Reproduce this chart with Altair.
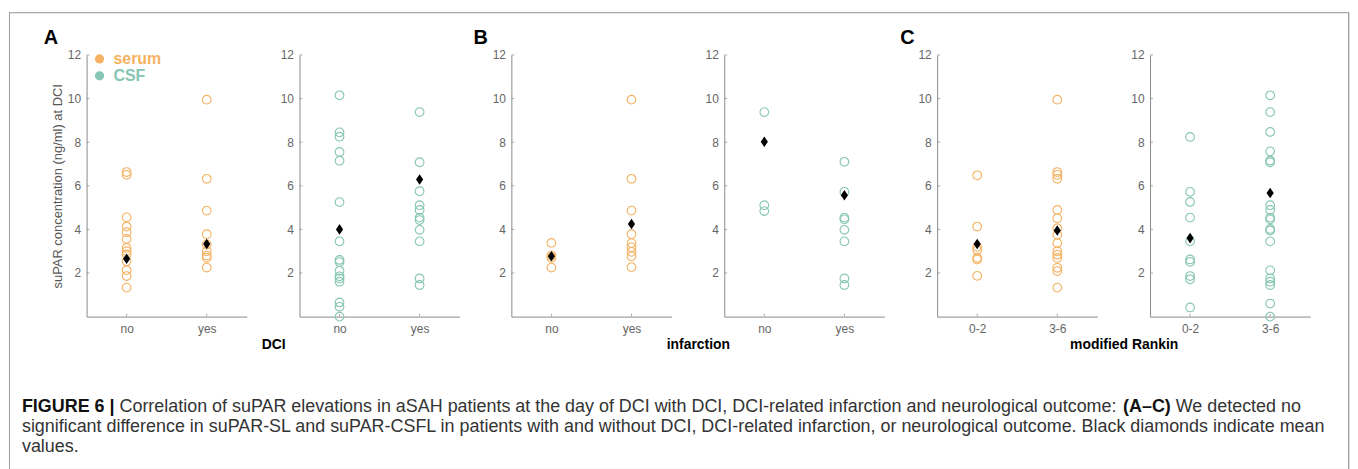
import altair as alt
import pandas as pd

# ---------------- data ----------------
dci_cats = ["no", "yes"]
inf_cats = ["no", "yes"]
mrs_cats = ["0-2", "3-6"]

dci_serum_no = [6.63, 6.5, 4.55, 4.13, 3.87, 3.56, 3.15, 3.0, 2.85, 2.54, 2.13, 1.86, 1.33]
dci_serum_yes = [9.95, 6.32, 4.86, 3.78, 3.3, 3.0, 2.8, 2.7, 2.25]
dci_csf_no = [10.15, 8.45, 8.25, 7.55, 7.15, 5.25, 3.45, 2.6, 2.5, 2.1, 1.85, 1.75, 1.6, 0.65, 0.45, 0.0]
dci_csf_yes = [9.38, 7.08, 5.75, 5.11, 4.89, 4.54, 4.43, 3.98, 3.45, 1.75, 1.45]

inf_serum_no = [3.38, 2.8, 2.7, 2.25]
inf_serum_yes = [9.95, 6.32, 4.86, 3.78, 3.37, 3.18, 2.97, 2.77, 2.27]
inf_csf_no = [9.38, 5.11, 4.84]
inf_csf_yes = [7.1, 5.72, 4.54, 4.46, 3.98, 3.45, 1.75, 1.45]

mrs_serum_low = [6.48, 4.13, 3.2, 3.05, 2.7, 2.62, 1.87]
mrs_serum_high = [9.95, 6.63, 6.5, 6.32, 4.89, 4.51, 4.05, 3.75, 3.37, 3.0, 2.84, 2.69, 2.24, 2.09, 1.33]
mrs_csf_low = [8.24, 5.72, 5.26, 4.54, 3.45, 2.62, 2.51, 1.86, 1.71, 0.42]
mrs_csf_high = [10.15, 9.38, 8.47, 7.58, 7.16, 7.08, 5.11, 4.89, 4.54, 4.46, 4.02, 3.95,
                3.45, 2.12, 1.75, 1.6, 1.45, 0.6, 0.0]

# mean values (black diamonds)
dci_serum_mean = [2.65, 3.33]
dci_csf_mean = [4.0, 6.29]
inf_serum_mean = [2.77, 4.25]
inf_csf_mean = [8.02, 5.57]
mrs_serum_mean = [3.33, 3.95]
mrs_csf_mean = [3.6, 5.67]

y_ticks = [2, 4, 6, 8, 10, 12]
series_names = ["serum", "CSF"]
panel_labels = ["A", "B", "C"]
group_titles = ["DCI", "infarction", "modified Rankin"]
y_title = "suPAR concentration (ng/ml) at DCI"

caption_lines = [
    [("FIGURE 6 |", True),
     (" Correlation of suPAR elevations in aSAH patients at the day of DCI with DCI, DCI-related infarction and neurological outcome: ", False),
     ("(A\u2013C)", True),
     (" We detected no", False)],
    [("significant difference in suPAR-SL and suPAR-CSFL in patients with and without DCI, DCI-related infarction, or neurological outcome. Black diamonds indicate mean", False)],
    [("values.", False)],
]

# ---------------- styling / layout ----------------
FONT = "Liberation Sans"
SERUM = "#F4B262"
CSF = "#86C6B3"
AXIS_GREY = "#8a8a8a"
LABEL_GREY = "#666666"
BORDER = "#9c9c9c"
FW, FH = 1347, 459          # outer frame (figure box; its bottom edge lies below the picture)
PW = 161                    # panel width
Y_TOP, Y_BOT = 43, 306      # pixel rows of y=12 and y=0
PANEL_X = [78, 292, 505, 719, 933, 1147]
DIAMOND = "M0,-1.25L0.85,0L0,1.25L-0.85,0Z"

# Arial metrics for caption layout
REG = {' ': 278, '(': 333, ')': 333, ',': 278, '-': 333, '.': 278, ':': 278, '|': 260, '\u2013': 556,
       'A': 667, 'B': 667, 'C': 722, 'D': 722, 'E': 667, 'F': 611, 'G': 778, 'H': 722, 'I': 278,
       'J': 500, 'K': 667, 'L': 556, 'M': 833, 'N': 722, 'O': 778, 'P': 667, 'Q': 778, 'R': 722,
       'S': 667, 'T': 611, 'U': 722, 'V': 667, 'W': 944, 'X': 667, 'Y': 667, 'Z': 611,
       'a': 556, 'b': 556, 'c': 500, 'd': 556, 'e': 556, 'f': 278, 'g': 556, 'h': 556, 'i': 222,
       'j': 222, 'k': 500, 'l': 222, 'm': 833, 'n': 556, 'o': 556, 'p': 556, 'q': 556, 'r': 333,
       's': 500, 't': 278, 'u': 556, 'v': 500, 'w': 722, 'x': 500, 'y': 500, 'z': 500}
BOLD = {' ': 278, '(': 333, ')': 333, '|': 280, '\u2013': 556, '6': 556, 'A': 722, 'C': 722,
        'E': 667, 'F': 611, 'G': 778, 'I': 278, 'R': 722, 'U': 722}


def em_width(s, bold):
    tab = BOLD if bold else REG
    return sum(tab.get(ch, REG.get(ch, 556)) for ch in s) / 1000.0


CAP_X0, CAP_X1 = 13, 1299
CAP_FS = (CAP_X1 - CAP_X0) / sum(em_width(t, b) for t, b in caption_lines[0])
CAP_Y0 = 397
CAP_DY = 20

cap_rows = []
for li, line in enumerate(caption_lines):
    x = CAP_X0
    for txt, b in line:
        lead = len(txt) - len(txt.lstrip(" "))
        cap_rows.append({"text": txt.strip(" "), "x": x + em_width(" " * lead, b) * CAP_FS,
                         "y": CAP_Y0 + li * CAP_DY, "bold": b})
        x += em_width(txt, b) * CAP_FS
cap_df = pd.DataFrame(cap_rows)

cap_reg = alt.Chart(cap_df).transform_filter("!datum.bold").mark_text(
    align="left", baseline="middle", font=FONT, fontSize=CAP_FS, color="#333333"
).encode(x=alt.X("x:Q", scale=None), y=alt.Y("y:Q", scale=None), text="text:N")
cap_bold = alt.Chart(cap_df).transform_filter("datum.bold").mark_text(
    align="left", baseline="middle", font=FONT, fontSize=CAP_FS, fontWeight="bold", color="#111111"
).encode(x=alt.X("x:Q", scale=None), y=alt.Y("y:Q", scale=None), text="text:N")

# figure box: top, left and right edges
box_df = pd.DataFrame({"k": [0]})
box_top = alt.Chart(box_df).mark_rule(color=BORDER, strokeWidth=1).encode(
    x=alt.value(0), x2=alt.value(FW), y=alt.value(0.5))
box_left = alt.Chart(box_df).mark_rule(color=BORDER, strokeWidth=1).encode(
    x=alt.value(0.5), y=alt.value(0), y2=alt.value(FH + 5))
box_right = alt.Chart(box_df).mark_rule(color=BORDER, strokeWidth=1).encode(
    x=alt.value(FW - 0.5), y=alt.value(0), y2=alt.value(FH + 5))


def panel(idx, cats, groups, means, series, color, first=False, gtitle=None):
    x0 = PANEL_X[idx]
    rows = [{"cat": c, "value": v, "series": series} for c, vals in zip(cats, groups) for v in vals]
    df = pd.DataFrame(rows)
    mdf = pd.DataFrame({"cat": cats, "mean": means})
    tdf = pd.DataFrame({"t": y_ticks})
    cdf = pd.DataFrame({"cat": cats})

    xsc = alt.Scale(type="point", domain=cats, padding=0.5, range=[x0, x0 + PW])
    ysc = alt.Scale(domain=[0, 12], nice=False, zero=True, range=[Y_BOT, Y_TOP])
    xaxis_kw = dict(orient="bottom", offset=Y_BOT - FH, labelAngle=0, ticks=False, tickSize=0,
                    labelPadding=7, domainColor=AXIS_GREY, labelColor=LABEL_GREY, labelFontSize=12,
                    labelFont=FONT, grid=False)
    if gtitle:
        xaxis = alt.Axis(title=gtitle, titleX=(x0 + PANEL_X[idx + 1] + PW) / 2, titleY=28,
                         titleAlign="center", titleBaseline="middle", titleFontSize=14,
                         titleFontWeight="bold", titleColor="#000000", titleFont=FONT, **xaxis_kw)
    else:
        xaxis = alt.Axis(title=None, **xaxis_kw)
    yaxis_kw = dict(orient="left", offset=-x0, values=y_ticks, ticks=False, tickSize=0, labelPadding=6,
                    domainColor=AXIS_GREY, labelColor=LABEL_GREY, labelFontSize=12, labelFont=FONT,
                    grid=False)
    if first:
        yaxis = alt.Axis(title=y_title, titleFontSize=13, titleFontWeight="normal", titleColor="#555555",
                         titleFont=FONT, titlePadding=3, **yaxis_kw)
    else:
        yaxis = alt.Axis(title=None, **yaxis_kw)

    X = alt.X("cat:N", scale=xsc, axis=xaxis, sort=cats)
    layers = [
        alt.Chart(df).mark_point(shape="circle", filled=False, size=76, strokeWidth=1.1,
                                 color=color, opacity=1).encode(
            x=X, y=alt.Y("value:Q", scale=ysc, axis=yaxis)),
        alt.Chart(tdf).mark_tick(orient="horizontal", size=3, thickness=1, color=AXIS_GREY).encode(
            y=alt.Y("t:Q", scale=ysc, axis=yaxis), x=alt.value(x0 + 1.5)),
        alt.Chart(cdf).mark_tick(orient="vertical", size=3, thickness=1, color=AXIS_GREY).encode(
            x=X, y=alt.value(Y_BOT - 1.5)),
        alt.Chart(mdf).mark_point(shape=DIAMOND, filled=True, color="black", size=72, opacity=1).encode(
            x=X, y=alt.Y("mean:Q", scale=ysc, axis=yaxis)),
    ]
    return alt.layer(*layers)


panels = [
    panel(0, dci_cats, [dci_serum_no, dci_serum_yes], dci_serum_mean, "serum", SERUM,
          first=True, gtitle=group_titles[0]),
    panel(1, dci_cats, [dci_csf_no, dci_csf_yes], dci_csf_mean, "CSF", CSF),
    panel(2, inf_cats, [inf_serum_no, inf_serum_yes], inf_serum_mean, "serum", SERUM,
          gtitle=group_titles[1]),
    panel(3, inf_cats, [inf_csf_no, inf_csf_yes], inf_csf_mean, "CSF", CSF),
    panel(4, mrs_cats, [mrs_serum_low, mrs_serum_high], mrs_serum_mean, "serum", SERUM,
          gtitle=group_titles[2]),
    panel(5, mrs_cats, [mrs_csf_low, mrs_csf_high], mrs_csf_mean, "CSF", CSF),
]

# panel letters
lab_df = pd.DataFrame({"t": panel_labels, "x": [35, 467, 896], "y": [32, 32, 32]})
labels = alt.Chart(lab_df).mark_text(
    align="left", baseline="alphabetic", font=FONT, fontSize=20, fontWeight="bold", color="black"
).encode(text="t:N", x=alt.X("x:Q", scale=None), y=alt.Y("y:Q", scale=None))

# legend (serum / CSF)
leg_df = pd.DataFrame({"name": series_names, "col": [SERUM, CSF], "y": [47, 64]})
leg_dot = alt.Chart(leg_df).mark_point(shape="circle", filled=True, size=85, opacity=1).encode(
    x=alt.value(91), y=alt.Y("y:Q", scale=None), color=alt.Color("col:N", scale=None))
leg_txt = alt.Chart(leg_df).mark_text(
    align="left", baseline="middle", font=FONT, fontSize=16, fontWeight="bold"
).encode(text="name:N", x=alt.value(105), y=alt.Y("y:Q", scale=None), color=alt.Color("col:N", scale=None))

chart = alt.layer(box_top, box_left, box_right, *panels, labels, leg_dot, leg_txt, cap_reg, cap_bold
                  ).resolve_scale(
    x="independent", y="independent", color="independent"
).resolve_axis(x="independent", y="independent").properties(
    width=FW, height=FH, padding={"left": 0, "top": 2, "right": 0, "bottom": 0}
).configure_view(stroke="transparent").configure(font=FONT, background="white")

chart.save("out.html", embed_options={"renderer": "svg", "actions": False})
